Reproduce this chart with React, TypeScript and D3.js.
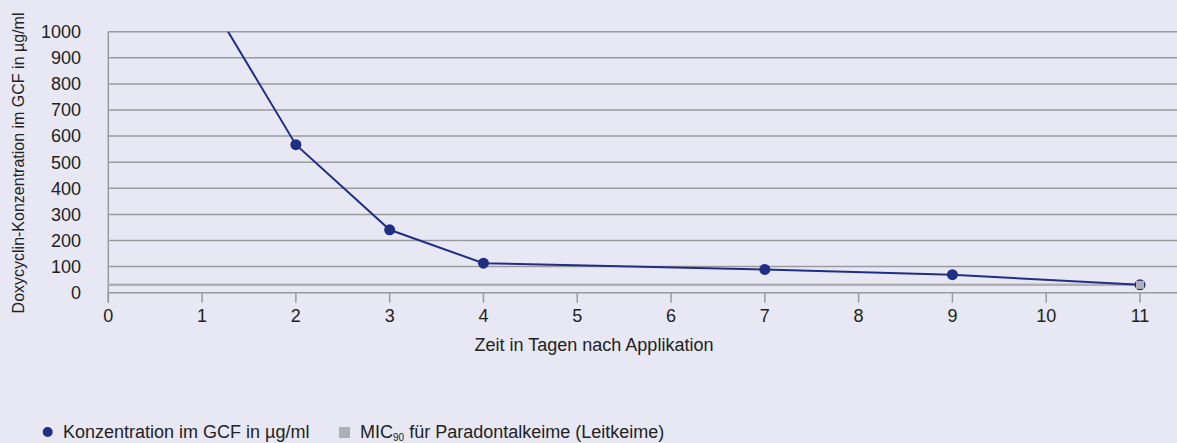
import React from "react";
import * as d3 from "d3";

const xTicks = [0, 1, 2, 3, 4, 5, 6, 7, 8, 9, 10, 11];
const yTicks = [0, 100, 200, 300, 400, 500, 600, 700, 800, 900, 1000];
const concDays = [1, 2, 3, 4, 7, 9, 11];
const concValues = [1166, 567, 241, 113, 89, 69, 30];
const micDays = [0, 11];
const micValues = [30, 30];

const W = 1177;
const H = 443;
const FONT = "'Liberation Sans', Arial, sans-serif";
const BG = "#e8e8f4";
const NAVY = "#1f2f86";
const GRID = "#9a9a9e";
const MICC = "#b0b0b4";
const TXT = "#222";

export default function App() {
  const x = d3.scaleLinear().domain([0, 11]).range([108.3, 1140]);
  const y = d3.scaleLinear().domain([0, 1000]).range([292.7, 31.7]);
  const line = d3
    .line<[number, number]>()
    .x((d) => x(d[0]))
    .y((d) => y(d[1]));
  const conc: [number, number][] = concDays.map((d, i) => [d, concValues[i]]);
  const mic: [number, number][] = micDays.map((d, i) => [d, micValues[i]]);
  const lastMic = mic[mic.length - 1];

  return (
    <svg
      width={W}
      height={H}
      style={{ position: "absolute", left: 0, top: 0, fontFamily: FONT }}
    >
      <defs>
        <clipPath id="plotclip">
          <rect x={0} y={y(1000)} width={W} height={H} />
        </clipPath>
      </defs>
      <rect x={0} y={0} width={W} height={H} fill={BG} />
      {yTicks.map((t) => (
        <g key={t}>
          <line
            x1={x(0)}
            x2={W}
            y1={y(t)}
            y2={y(t)}
            stroke={GRID}
            strokeWidth={1.5}
          />
          <text
            x={81}
            y={y(t)}
            dy="0.35em"
            textAnchor="end"
            fontSize={18}
            fill={TXT}
          >
            {t}
          </text>
        </g>
      ))}
      <line
        x1={x(0)}
        x2={x(0)}
        y1={y(1000)}
        y2={y(0) + 10}
        stroke={GRID}
        strokeWidth={1.5}
      />
      {xTicks.map((t) => (
        <g key={t}>
          <line
            x1={x(t)}
            x2={x(t)}
            y1={y(0)}
            y2={y(0) + 10}
            stroke={GRID}
            strokeWidth={1.5}
          />
          <text
            x={x(t)}
            y={316}
            dy="0.35em"
            textAnchor="middle"
            fontSize={18}
            fill={TXT}
          >
            {t}
          </text>
        </g>
      ))}
      <path
        d={line(mic) || ""}
        fill="none"
        stroke={MICC}
        strokeWidth={2.5}
      />
      <g clipPath="url(#plotclip)">
        <path
          d={line(conc) || ""}
          fill="none"
          stroke={NAVY}
          strokeWidth={2}
        />
        {conc
          .filter((d) => d[1] <= 1000)
          .map((d, i) => (
            <circle key={i} cx={x(d[0])} cy={y(d[1])} r={5.5} fill={NAVY} />
          ))}
      </g>
      <rect
        x={x(lastMic[0]) - 4}
        y={y(lastMic[1]) - 4}
        width={8}
        height={8}
        fill={MICC}
      />
      <text
        x={18}
        y={163}
        transform="rotate(-90 18 163)"
        textAnchor="middle"
        dy="0.35em"
        fontSize={16}
        fill={TXT}
      >
        Doxycyclin-Konzentration im GCF in µg/ml
      </text>
      <text
        x={594}
        y={345}
        dy="0.35em"
        textAnchor="middle"
        fontSize={18}
        fill={TXT}
      >
        Zeit in Tagen nach Applikation
      </text>
      <circle cx={47.7} cy={432} r={5} fill={NAVY} />
      <text x={63} y={432} dy="0.35em" fontSize={18} fill={TXT}>
        Konzentration im GCF in µg/ml
      </text>
      <rect x={339} y={427} width={11} height={11} fill={MICC} />
      <text x={360} y={432} dy="0.35em" fontSize={18} fill={TXT}>
        MIC
        <tspan fontSize={10} dy="3">
          90
        </tspan>
        <tspan dy="-3"> für Paradontalkeime (Leitkeime)</tspan>
      </text>
    </svg>
  );
}
